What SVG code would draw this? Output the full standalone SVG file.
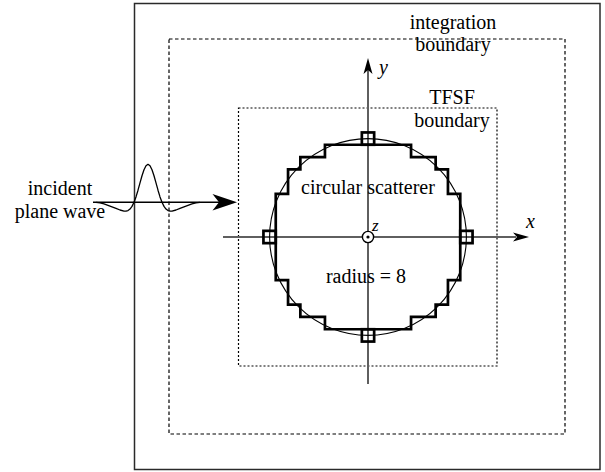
<svg xmlns="http://www.w3.org/2000/svg" width="605" height="472" viewBox="0 0 605 472">
  <style>
    text { font-family: "Liberation Serif", "Times New Roman", serif; font-size: 20px; fill: #000; }
    .it { font-style: italic; }
    .mid { text-anchor: middle; }
    .axis { stroke: #5f5f5f; stroke-width: 2; fill: none; }
    .head { fill: #000; stroke: none; }
    .cell { stroke-width: 0.22; }
  </style>

  <!-- computational domain -->
  <g id="outer-boundary">
    <rect x="134.5" y="3.5" width="465.5" height="466" fill="#fff" stroke="#2a2a2a" stroke-width="1.5"/>
  </g>
  <g id="integration-boundary">
    <rect x="169" y="39" width="396" height="395" fill="none" stroke="#000" stroke-width="1.2" stroke-dasharray="3.5 2.5"/>
    <text class="mid" x="453" y="29">integration</text>
    <text class="mid" x="453" y="51">boundary</text>
  </g>
  <g id="tfsf-boundary">
    <rect x="238.5" y="108" width="258.5" height="258" fill="none" stroke="#000" stroke-width="1.2" stroke-dasharray="2 2"/>
    <text class="mid" x="452" y="104">TFSF</text>
    <text class="mid" x="452" y="127">boundary</text>
  </g>

  <!-- coordinate axes -->
  <g id="connectors">
    <line class="axis" x1="223" y1="237" x2="516" y2="237"/>
    <path class="head" d="M529,237 L513,232.5 L517,237 L513,241.5 Z"/>
    <line class="axis" x1="368" y1="384" x2="368" y2="70"/>
    <path class="head" d="M368,58 L363.5,74 L368,70 L372.5,74 Z"/>
    <!-- incident wave direction -->
    <line x1="93" y1="202.3" x2="222" y2="202.3" stroke="#000" stroke-width="1.5"/>
    <path class="head" d="M237,202.3 L212.5,194 L219,202.3 L212.5,210.6 Z"/>
  </g>

  <g id="axis-labels">
    <text class="it" x="526" y="228">x</text>
    <text class="it" x="379" y="74">y</text>
  </g>

  <!-- incident pulse -->
  <g id="incident-wave">
    <polyline fill="none" stroke="#000" stroke-width="1.3" stroke-linejoin="round"
      points="96,202.3 100,202.8 104,203.8 108,205.3 112,206.8 116,208.3 120,210 124,211.1 126,211.2 128,210.6 130,209.1 132,206.4 134,202.3 136,196.9 138,190.2 140,182.9 142,175.8 144,169.8 146,165.7 148,164.3 150,165.7 152,169.8 154,175.8 156,182.9 158,190.2 160,196.9 162,202.3 164,206.4 166,209.1 168,210.6 170,211.2 172,211.1 176,210 180,208.3 184,206.8 188,205.3 192,203.8 196,202.8 200,202.3"/>
    <text class="mid" x="60" y="195">incident</text>
    <text class="mid" x="60" y="218">plane wave</text>
  </g>

  <!-- staircased circular scatterer, drawn in cell units -->
  <g id="scatterer">
    <g transform="translate(368 237) scale(12.3)" fill="none" stroke="#000">
      <circle cx="0" cy="0" r="8" stroke-width="0.09"/>
      <path class="cell" stroke-linejoin="miter" d="M-3.5,-7.5 L3.5,-7.5 L3.5,-6.5 L5.5,-6.5 L5.5,-5.5 L6.5,-5.5 L6.5,-3.5 L7.5,-3.5 L7.5,3.5 L6.5,3.5 L6.5,5.5 L5.5,5.5 L5.5,6.5 L3.5,6.5 L3.5,7.5 L-3.5,7.5 L-3.5,6.5 L-5.5,6.5 L-5.5,5.5 L-6.5,5.5 L-6.5,3.5 L-7.5,3.5 L-7.5,-3.5 L-6.5,-3.5 L-6.5,-5.5 L-5.5,-5.5 L-5.5,-6.5 L-3.5,-6.5 Z"/>
      <rect class="cell" x="-0.5" y="-8.5" width="1" height="1"/>
      <rect class="cell" x="-0.5" y="7.5" width="1" height="1"/>
      <rect class="cell" x="7.5" y="-0.5" width="1" height="1"/>
      <rect class="cell" x="-8.5" y="-0.5" width="1" height="1"/>
    </g>
    <text class="mid" x="368" y="194">circular scatterer</text>
    <text class="mid" x="366" y="283">radius = 8</text>
  </g>

  <!-- z axis pointing out of the page -->
  <g id="z-axis">
    <circle cx="368" cy="237" r="5.6" fill="#fff" stroke="#000" stroke-width="1.4"/>
    <circle cx="368" cy="237" r="1.6" fill="#000"/>
    <text class="it" x="372" y="231" style="font-size:17px">z</text>
  </g>
</svg>
